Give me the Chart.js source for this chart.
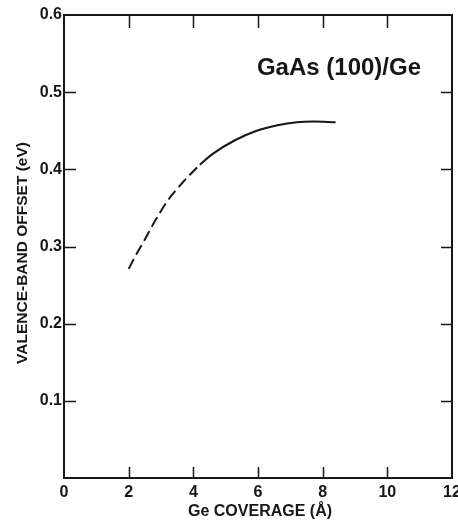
<!DOCTYPE html>
<html>
<head>
<meta charset="utf-8">
<script src="https://cdn.jsdelivr.net/npm/chart.js@4.4.1/dist/chart.umd.min.js"></script>
<style>
  html, body { margin: 0; padding: 0; background: #fff; }
  #wrap { width: 458px; height: 521px; }
</style>
</head>
<body>
<div id="wrap"><canvas id="c" width="458" height="521"></canvas></div>
<script>
// Valence-band offset vs Ge coverage; the low-coverage part is dashed
const coverageDashed = [2.0, 2.2, 2.5, 2.8, 3.2, 3.65, 4.2];
const offsetDashed   = [0.271, 0.287, 0.309, 0.332, 0.359, 0.382, 0.406];
const coverageSolid  = [4.2, 4.6, 5.3, 5.9, 6.6, 7.2, 7.7, 8.4];
const offsetSolid    = [0.406, 0.420, 0.438, 0.449, 0.457, 0.461, 0.462, 0.461];

const xTickValues = [0, 2, 4, 6, 8, 10, 12];
const xTickLabels = ['0', '2', '4', '6', '8', '10', '12'];
const yTickValues = [0, 0.1, 0.2, 0.3, 0.4, 0.5, 0.6];
const yTickLabels = ['', '0.1', '0.2', '0.3', '0.4', '0.5', '0.6'];

const plotTitle = 'GaAs (100)/Ge';
const xTitle = 'Ge COVERAGE (\u00C5)';
const yTitle = 'VALENCE-BAND OFFSET (eV)';

const INK = '#161616';
const FONT = "'Liberation Sans', Arial, Helvetica, sans-serif";

const toPoints = (xs, ys) => xs.map((x, i) => ({ x, y: ys[i] }));

// Box frame with inward tick marks on all four sides, plus the text annotations
const framePlugin = {
  id: 'frame',
  afterDraw(chart) {
    const { ctx, chartArea: a, scales: { x, y } } = chart;
    ctx.save();
    ctx.strokeStyle = INK;
    ctx.lineWidth = 2;
    ctx.strokeRect(a.left, a.top, a.right - a.left, a.bottom - a.top);

    ctx.lineWidth = 1.5;
    ctx.beginPath();
    x.ticks.forEach(t => {
      const px = Math.round(x.getPixelForValue(t.value)) + 0.5;
      if (px <= a.left + 2 || px >= a.right - 2) return;
      ctx.moveTo(px, a.bottom); ctx.lineTo(px, a.bottom - 11);
      ctx.moveTo(px, a.top);    ctx.lineTo(px, a.top + 13);
    });
    y.ticks.forEach(t => {
      const py = Math.round(y.getPixelForValue(t.value)) + 0.5;
      if (py <= a.top + 2 || py >= a.bottom - 2) return;
      ctx.moveTo(a.left, py);  ctx.lineTo(a.left + 12, py);
      ctx.moveTo(a.right, py); ctx.lineTo(a.right - 11, py);
    });
    ctx.stroke();

    ctx.fillStyle = INK;
    // plot label in the upper right
    ctx.font = 'bold 24px ' + FONT;
    ctx.textAlign = 'right';
    ctx.textBaseline = 'alphabetic';
    ctx.fillText(plotTitle, 421, 75);

    // x axis title
    ctx.font = 'bold 16px ' + FONT;
    ctx.textAlign = 'center';
    ctx.fillText(xTitle, 260, 516);

    // y axis title, rotated
    ctx.translate(23, 253);
    ctx.rotate(-Math.PI / 2);
    ctx.font = 'bold 15.5px ' + FONT;
    ctx.textBaseline = 'middle';
    ctx.fillText(yTitle, 0, 0);
    ctx.restore();
  }
};

new Chart(document.getElementById('c'), {
  type: 'line',
  data: {
    datasets: [
      {
        data: toPoints(coverageDashed, offsetDashed),
        borderColor: INK,
        borderWidth: 2,
        borderDash: [11, 5],
        pointRadius: 0,
        cubicInterpolationMode: 'monotone',
        fill: false
      },
      {
        data: toPoints(coverageSolid, offsetSolid),
        borderColor: INK,
        borderWidth: 2,
        pointRadius: 0,
        cubicInterpolationMode: 'monotone',
        fill: false
      }
    ]
  },
  options: {
    responsive: false,
    animation: false,
    devicePixelRatio: 1,
    layout: { padding: { top: 15, right: 6, left: 0, bottom: 0 } },
    plugins: { legend: { display: false }, tooltip: { enabled: false } },
    scales: {
      x: {
        type: 'linear',
        min: 0,
        max: 12,
        grid: { display: false, drawTicks: false },
        border: { display: false },
        afterBuildTicks: s => { s.ticks = xTickValues.map(v => ({ value: v })); },
        afterFit: s => { s.height = 43; s.paddingLeft = 0; s.paddingRight = 0; },
        ticks: {
          padding: 5,
          color: INK,
          font: { family: FONT, size: 16, weight: 'bold' },
          maxRotation: 0,
          autoSkip: false,
          callback: (v, i) => xTickLabels[i]
        }
      },
      y: {
        type: 'linear',
        min: 0,
        max: 0.6,
        grid: { display: false, drawTicks: false },
        border: { display: false },
        afterBuildTicks: s => { s.ticks = yTickValues.map(v => ({ value: v })); },
        afterFit: s => { s.width = 64; s.paddingTop = 0; s.paddingBottom = 0; },
        ticks: {
          padding: 2,
          color: INK,
          font: { family: FONT, size: 16, weight: 'bold' },
          autoSkip: false,
          callback: (v, i) => yTickLabels[i]
        }
      }
    }
  },
  plugins: [framePlugin]
});
</script>
</body>
</html>
